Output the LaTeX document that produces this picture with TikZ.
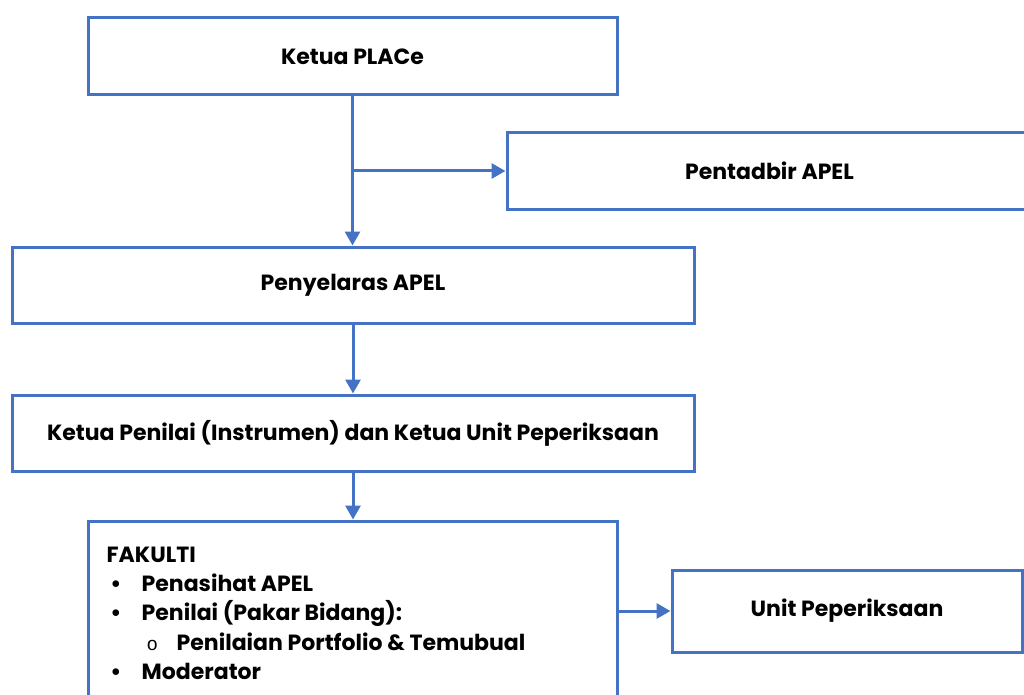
\documentclass[tikz,border=0pt]{standalone}
\usepackage{fontspec}
\setmainfont{Poppins}
\newfontfamily\monofont{Liberation Mono}
\usetikzlibrary{arrows.meta}

\definecolor{boxblue}{HTML}{4472C4}

\tikzset{
  orgbox/.style={draw=boxblue, line width=3pt, fill=white, inner sep=0pt,
    font=\fontsize{22}{29}\selectfont\bfseries},
  link/.style={draw=boxblue, line width=3pt,
    -{Triangle[length=14pt,width=15pt]}}
}

\begin{document}
\begin{tikzpicture}[x=1pt,y=-1pt]
  \useasboundingbox (0,0) rectangle (1024,695);
  % boxes
  \node[orgbox, minimum width=529pt, minimum height=77pt] (place) at (352.5,56.5) {Ketua PLACe};
  \node[orgbox, minimum width=525pt, minimum height=76pt] (pentadbir) at (769.5,171) {Pentadbir APEL};
  \node[orgbox, minimum width=682pt, minimum height=76pt] (penyelaras) at (353,285) {Penyelaras APEL};
  \node[orgbox, minimum width=682pt, minimum height=76pt] (penilai) at (353,433) {Ketua Penilai (Instrumen) dan Ketua Unit Peperiksaan};
  \node[orgbox, minimum width=529pt, minimum height=190pt] (fakulti) at (352.5,616) {};
  \node[orgbox, minimum width=350pt, minimum height=82pt] (unit) at (847,611) {Unit Peperiksaan};
  % text of the faculty box
  \node[font=\fontsize{22}{29.3}\selectfont\bfseries, align=left, anchor=north west, inner sep=0pt]
    (fakultilist) at ([shift={(20,27)}]fakulti.north west)
    {FAKULTI\\
     \makebox[35pt][l]{\,\textbullet}Penasihat APEL\\
     \makebox[35pt][l]{\,\textbullet}Penilai (Pakar Bidang):\\
     \hspace*{40pt}\makebox[30pt][l]{{\monofont\mdseries\fontsize{19}{29.3}\selectfont o}}Penilaian Portfolio \& Temubual\\
     \makebox[35pt][l]{\,\textbullet}Moderator};
  % connectors
  \draw[link] (place.south) -- (place.south |- penyelaras.north);
  \draw[link] (place.south |- pentadbir.west) -- (pentadbir.west);
  \draw[link] (penyelaras.south) -- (penilai.north);
  \draw[link] (penilai.south) -- (penilai.south |- fakulti.north);
  \draw[link] (fakulti.east |- unit.west) -- (unit.west);
\end{tikzpicture}
\end{document}
